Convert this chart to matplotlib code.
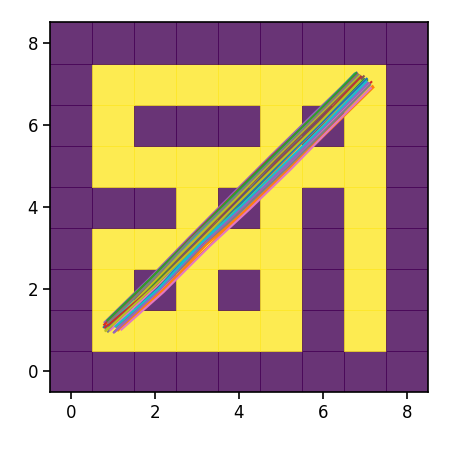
import numpy as np
import matplotlib
matplotlib.use("Agg")
import matplotlib.pyplot as plt

# Maze grid (row index = y, origin at bottom); 1 = free (yellow), 0 = wall (purple)
maze = [
    [0, 0, 0, 0, 0, 0, 0, 0, 0],  # y=0
    [0, 1, 1, 1, 1, 1, 0, 1, 0],  # y=1
    [0, 1, 0, 1, 0, 1, 0, 1, 0],  # y=2
    [0, 1, 1, 1, 1, 1, 0, 1, 0],  # y=3
    [0, 0, 0, 1, 0, 1, 0, 1, 0],  # y=4
    [0, 1, 1, 1, 1, 1, 1, 1, 0],  # y=5
    [0, 1, 0, 0, 0, 1, 0, 1, 0],  # y=6
    [0, 1, 1, 1, 1, 1, 1, 1, 0],  # y=7
    [0, 0, 0, 0, 0, 0, 0, 0, 0],  # y=8
]

# Trajectory waypoints
x_start = [0.78,0.85,0.92,1.05,0.80,0.95,1.10,0.88,1.00,0.83,0.97,1.12,0.90,0.79,1.03,0.86,0.94,1.08,0.82,0.99,0.91,1.15,0.87,0.81,1.02,0.96,1.20,0.89,0.84,1.06]
y_start = [1.08,1.15,1.02,0.98,1.20,1.10,1.05,0.97,1.12,1.03,1.18,1.00,1.06,1.14,0.96,1.22,1.01,1.09,0.99,1.16,1.11,1.04,1.25,1.07,0.95,1.13,1.02,1.19,1.00,1.10]
x_q1 = [1.90,2.02,1.95,2.10,1.85,2.05,2.12,1.92,2.00,1.88,2.08,2.15,1.97,1.86,2.06,1.93,2.03,2.11,1.89,1.99,2.04,2.18,1.87,1.94,2.09,2.01,2.20,1.91,1.96,2.07]
y_q1 = [2.18,2.05,2.00,2.02,2.25,2.08,1.98,2.12,2.06,2.20,2.03,1.95,2.14,2.22,1.99,2.16,2.07,2.01,2.10,2.09,2.13,1.96,2.24,2.04,1.97,2.11,1.93,2.19,2.05,2.00]
x_mid1 = [2.85,3.05,2.95,3.15,2.80,3.00,3.20,2.90,3.10,2.88,2.98,3.25,3.02,2.83,3.12,2.92,3.08,3.18,2.87,2.96,3.03,3.22,2.84,2.93,3.14,3.01,3.30,2.89,2.97,3.09]
y_mid1 = [3.20,3.15,3.05,3.10,3.25,3.00,3.12,3.18,2.98,3.22,3.08,3.02,3.16,3.24,3.04,3.11,3.19,3.06,3.13,2.99,3.21,3.09,3.23,3.03,3.14,3.17,3.05,3.26,3.07,3.12]
x_q2 = [3.85,4.08,3.96,4.12,3.80,4.02,4.18,3.90,4.06,3.87,3.99,4.20,4.00,3.82,4.14,3.93,4.04,4.16,3.89,3.97,4.05,4.22,3.84,3.94,4.10,4.01,4.25,3.88,3.95,4.07]
y_q2 = [4.25,4.12,4.08,4.02,4.28,4.05,4.00,4.20,4.10,4.22,4.15,3.98,4.06,4.26,4.04,4.18,4.13,4.01,4.17,4.09,4.11,3.97,4.27,4.07,4.03,4.16,3.95,4.23,4.08,4.05]
x_mid2 = [4.80,5.05,4.95,5.10,4.75,4.98,5.15,4.85,5.08,4.82,4.92,5.20,5.00,4.78,5.12,4.88,5.02,5.18,4.86,4.94,5.04,5.22,4.79,4.90,5.14,4.97,5.25,4.84,4.93,5.06]
y_mid2 = [5.22,5.10,5.05,5.00,5.25,5.12,4.98,5.18,5.02,5.20,5.15,4.95,5.08,5.24,5.03,5.16,5.11,4.99,5.19,5.06,5.13,4.96,5.23,5.09,5.01,5.14,4.94,5.21,5.07,5.04]
x_q3 = [5.80,6.02,5.98,6.12,5.78,5.95,6.10,5.86,6.05,5.82,5.93,6.18,6.00,5.79,6.09,5.90,6.03,6.14,5.87,5.96,6.04,6.20,5.81,5.92,6.08,5.99,6.16,5.84,5.91,6.06]
y_q3 = [6.24,6.10,6.06,6.00,6.28,6.14,5.98,6.20,6.04,6.25,6.12,5.94,6.09,6.23,6.02,6.18,6.11,5.97,6.21,6.08,6.13,5.92,6.26,6.10,6.01,6.16,5.90,6.22,6.05,6.03]
x_end = [6.75,6.95,7.05,7.15,6.80,6.90,7.10,6.85,7.00,6.78,6.92,7.18,6.98,6.82,7.08,6.88,7.02,7.12,6.86,6.94,7.04,7.20,6.79,6.91,7.06,6.97,7.14,6.83,6.89,7.03]
y_end = [7.25,7.15,7.10,7.05,7.28,7.18,7.00,7.22,7.08,7.26,7.14,6.95,7.12,7.24,7.02,7.20,7.11,6.98,7.21,7.16,7.13,6.92,7.27,7.17,7.04,7.19,6.90,7.23,7.09,7.06]

x_ticks = [0, 2, 4, 6, 8]
y_ticks = [0, 2, 4, 6, 8]

fig = plt.figure(figsize=(4.5, 4.5), dpi=100)
ax = fig.add_axes([50/450, 1 - 392/450, 378/450, 369.5/450])

grid = np.array(maze)
n_rows, n_cols = grid.shape
xe = np.arange(n_cols + 1) - 0.5
ye = np.arange(n_rows + 1) - 0.5
ax.pcolormesh(xe, ye, grid, cmap="viridis", alpha=0.8,
              edgecolors="face", linewidth=0.6, antialiased=True)

for i in range(len(x_start)):
    xs = [x_start[i], x_q1[i], x_mid1[i], x_q2[i], x_mid2[i], x_q3[i], x_end[i]]
    ys = [y_start[i], y_q1[i], y_mid1[i], y_q2[i], y_mid2[i], y_q3[i], y_end[i]]
    ax.plot(xs, ys, lw=1.5)

ax.set_xlim(-0.5, 8.5)
ax.set_ylim(-0.5, 8.5)
ax.set_xticks(x_ticks)
ax.set_yticks(y_ticks)
ax.tick_params(labelsize=12, length=5, width=1.2)
for s in ax.spines.values():
    s.set_linewidth(1.2)

fig.savefig("out.png", dpi=100)
